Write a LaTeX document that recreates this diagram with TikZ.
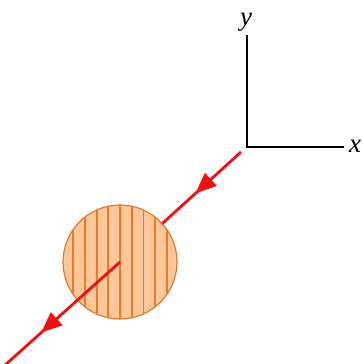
\documentclass[tikz,border=0pt]{standalone}
\usepackage{fontspec}
\setmainfont{Liberation Serif}
\usetikzlibrary{arrows.meta,decorations.markings}
\definecolor{ballfill}{HTML}{FCC79A}
\definecolor{stripe}{HTML}{F07A22}
\definecolor{ballline}{HTML}{E0782E}
\definecolor{pathred}{HTML}{EE1111}
\tikzset{
  axis/.style={line width=1.6pt, black},
  lbl/.style={inner sep=0pt, font=\fontsize{27}{29}\selectfont\itshape},
  ray/.style={line width=2.8pt, pathred},
  midarrow/.style={postaction={decorate}, decoration={markings,
     mark=at position #1 with {\arrow{Triangle[length=21pt,width=17pt]}}}},
}
\begin{document}
\begin{tikzpicture}[x=1pt,y=-1pt]
\useasboundingbox (0,0) rectangle (362,364);
\coordinate (O) at (247,147);
\coordinate (ytop) at (247,35);
\coordinate (xend) at (344,147);
\coordinate (start) at (241,152);
\coordinate (endp) at (4,366);
\node[lbl, anchor=base] (ylab) at (246,25) {y};
\node[lbl, anchor=base west] (xlab) at (349,152) {x};
\draw[axis] (ytop) -- (O) -- (xend);
\node[circle, minimum size=114pt, inner sep=0pt, fill=ballfill] (ball) at (120,262) {};
\draw[ray, midarrow=0.58, shorten >=-1pt] (start) -- (ball);
\begin{scope}
  \clip (ball.center) circle (57pt);
  \foreach \i in {-5,...,5} {
    \draw[stripe, line width=1.8pt] (120+11.7*\i,200) -- (120+11.7*\i,325);
  }
\end{scope}
\draw[ballline, line width=1.2pt] (ball.center) circle (57pt);
\draw[ray, midarrow=0.68] (ball.center) -- (endp);
\end{tikzpicture}
\end{document}
